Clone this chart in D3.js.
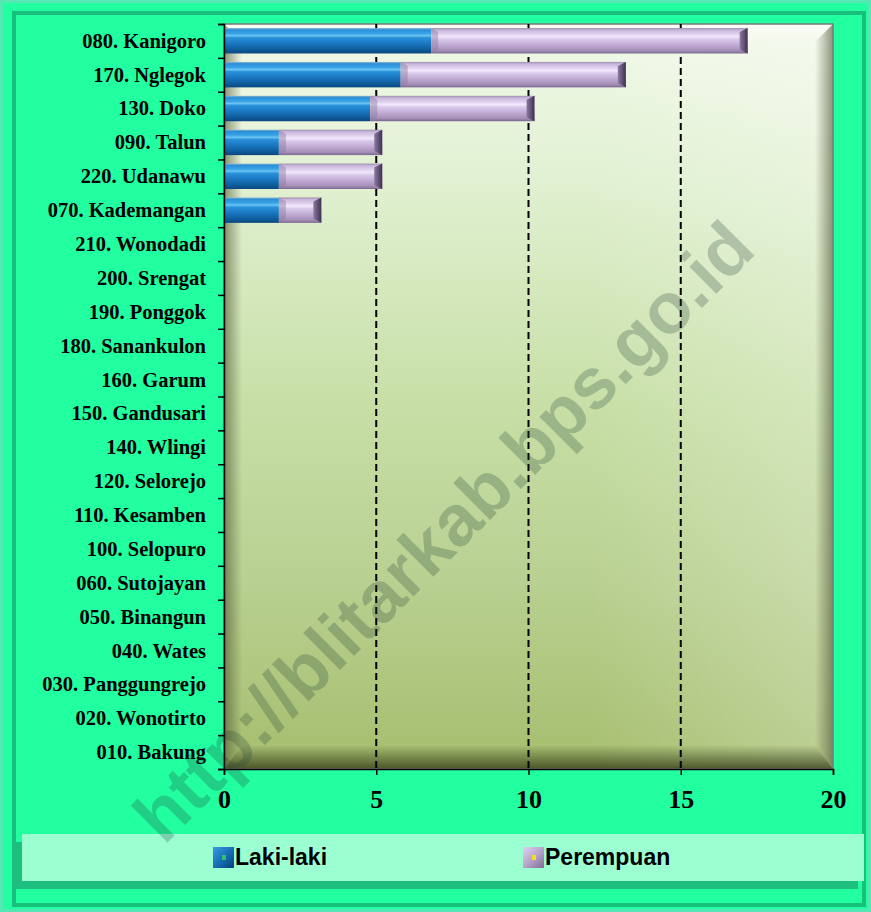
<!DOCTYPE html>
<html>
<head>
<meta charset="utf-8">
<script src="https://cdn.jsdelivr.net/npm/d3@7/dist/d3.min.js"></script>
<style>
  html, body { margin: 0; padding: 0; background: #22FFA0; }
  svg { display: block; }
</style>
</head>
<body>
<svg id="chart" width="871" height="912"></svg>
<script>
// ---- data ----
const categories = [
  "080. Kanigoro", "170. Nglegok", "130. Doko", "090. Talun", "220. Udanawu",
  "070. Kademangan", "210. Wonodadi", "200. Srengat", "190. Ponggok",
  "180. Sanankulon", "160. Garum", "150. Gandusari", "140. Wlingi",
  "120. Selorejo", "110. Kesamben", "100. Selopuro", "060. Sutojayan",
  "050. Binangun", "040. Wates", "030. Panggungrejo", "020. Wonotirto", "010. Bakung"
];
const lakiLaki  = [7, 6, 5, 2, 2, 2, 0, 0, 0, 0, 0, 0, 0, 0, 0, 0, 0, 0, 0, 0, 0, 0];
const perempuan = [10, 7, 5, 3, 3, 1, 0, 0, 0, 0, 0, 0, 0, 0, 0, 0, 0, 0, 0, 0, 0, 0];
const seriesNames = ["Laki-laki", "Perempuan"];
const xTicks = [0, 5, 10, 15, 20];
const xDomain = [0, 20];
const watermarkText = "http://blitarkab.bps.go.id";

// ---- layout ----
const W = 871, H = 912;
const plot = { x0: 224, x1: 833, y0: 24, y1: 769 };
const depth = 6; // 3D offset of bar faces
const serif = "'Liberation Serif', 'Times New Roman', Times, serif";
const sans = "'Liberation Sans', Arial, Helvetica, sans-serif";

const svg = d3.select("#chart");
const defs = svg.append("defs");

function linGrad(id, x1, y1, x2, y2, stops) {
  const g = defs.append("linearGradient").attr("id", id)
    .attr("x1", x1).attr("y1", y1).attr("x2", x2).attr("y2", y2);
  stops.forEach(s => g.append("stop").attr("offset", s[0]).attr("stop-color", s[1])
    .attr("stop-opacity", s[2] === undefined ? 1 : s[2]));
  return "url(#" + id + ")";
}

const plotBg = linGrad("plotBg", 0, 0, 0, 1, [
  [0, "#F2F9EA"], [0.22, "#E0F0D0"], [0.5, "#C8E0A8"], [0.75, "#B8D090"], [1, "#A6BE6E"]
]);
const plotBgH = linGrad("plotBgH", 0, 0, 1, 0, [
  [0, "#ffffff", 0], [0.6, "#ffffff", 0], [1, "#ffffff", 0.25]
]);
const bevelTop = linGrad("bevelTop", 0, 0, 0, 1, [[0, "#ffffff", 0.5], [1, "#ffffff", 0]]);
const bevelLeft = linGrad("bevelLeft", 0, 0, 1, 0, [[0, "#4a5232", 0.6], [1, "#4a5232", 0]]);
const bevelRight = linGrad("bevelRight", 0, 0, 1, 0, [[0, "#4a5232", 0], [1, "#4a5232", 0.6]]);
const bevelBottom = linGrad("bevelBottom", 0, 0, 0, 1, [[0, "#333c18", 0], [1, "#333c18", 0.8]]);

const blueGrad = linGrad("blueGrad", 0, 0, 0, 1, [
  [0, "#8FB8D0"], [0.07, "#2A8FD8"], [0.22, "#3AA4E6"], [0.3, "#6CC4F2"], [0.38, "#2A92DA"],
  [0.6, "#1A78C2"], [0.82, "#10609F"], [1, "#0A4680"]
]);
const pinkGrad = linGrad("pinkGrad", 0, 0, 0, 1, [
  [0, "#9E8EAE"], [0.08, "#C8B6DA"], [0.25, "#E2D4F2"], [0.34, "#F2E8FC"], [0.45, "#D8C8EA"],
  [0.7, "#BCA6D0"], [0.88, "#A690B8"], [1, "#7A6890"]
]);
const capGrad = linGrad("capGrad", 0, 0, 1, 0, [[0, "#8C7AA0"], [1, "#3E3050"]]);
const blueMarker = linGrad("blueMarker", 0, 0, 1, 1, [[0, "#3A9AE0"], [0.5, "#1670B8"], [1, "#0A3E78"]]);
const pinkMarker = linGrad("pinkMarker", 0, 0, 1, 1, [[0, "#E0D2EE"], [0.5, "#B8A4CC"], [1, "#7E6C92"]]);

// ---- outer frame ----
svg.append("rect").attr("x", 0).attr("y", 0).attr("width", W).attr("height", H).attr("fill", "#22FFA0");
svg.append("rect").attr("x", 1.5).attr("y", 1.5).attr("width", W - 3).attr("height", H - 3)
  .attr("fill", "none").attr("stroke", "#55E8B4").attr("stroke-width", 3);
svg.append("rect").attr("x", 14).attr("y", 13).attr("width", W - 21).attr("height", H - 20)
  .attr("fill", "none").attr("stroke", "#18B575").attr("stroke-width", 4).attr("opacity", 0.85);

// ---- scales ----
const x = d3.scaleLinear().domain(xDomain).range([plot.x0, plot.x1]);
const y = d3.scaleBand().domain(categories).range([plot.y0, plot.y1]).paddingInner(0.25).paddingOuter(0.12);
const yb = d3.scaleLinear().domain([0, categories.length]).range([plot.y0, plot.y1]);

// ---- plot area ----
const pw = plot.x1 - plot.x0, ph = plot.y1 - plot.y0, b = 18;
svg.append("rect").attr("x", plot.x0).attr("y", plot.y0).attr("width", pw).attr("height", ph).attr("fill", plotBg);
svg.append("rect").attr("x", plot.x0).attr("y", plot.y0).attr("width", pw).attr("height", ph).attr("fill", plotBgH);
const P = plot;
const poly = pts => pts.map(p => p.join(",")).join(" ");
svg.append("polygon").attr("points", poly([[P.x0, P.y0], [P.x1, P.y0], [P.x1 - b, P.y0 + b], [P.x0 + b, P.y0 + b]])).attr("fill", bevelTop);
svg.append("polygon").attr("points", poly([[P.x0, P.y0], [P.x0 + b, P.y0 + b], [P.x0 + b, P.y1 - b - 6], [P.x0, P.y1]])).attr("fill", bevelLeft);
svg.append("polygon").attr("points", poly([[P.x1, P.y0], [P.x1, P.y1], [P.x1 - b, P.y1 - b - 6], [P.x1 - b, P.y0 + b]])).attr("fill", bevelRight);
svg.append("polygon").attr("points", poly([[P.x0, P.y1], [P.x0 + b, P.y1 - b - 6], [P.x1 - b, P.y1 - b - 6], [P.x1, P.y1]])).attr("fill", bevelBottom);
svg.append("rect").attr("x", plot.x0).attr("y", plot.y0).attr("width", pw).attr("height", ph)
  .attr("fill", "none").attr("stroke", "#7a7a7a").attr("stroke-width", 1.5);

// ---- grid lines ----
svg.append("g").selectAll("line").data(xTicks.filter(t => t > xDomain[0] && t < xDomain[1])).join("line")
  .attr("x1", d => x(d)).attr("x2", d => x(d)).attr("y1", plot.y0).attr("y2", plot.y1)
  .attr("stroke", "#000").attr("stroke-width", 2).attr("stroke-dasharray", "7,4");

// ---- bars ----
const rows = categories.map((c, i) => ({ c, m: lakiLaki[i], f: perempuan[i] }));
const bars = svg.append("g");
rows.filter(r => r.m + r.f > 0).forEach(r => {
  const y0 = y(r.c), h = y.bandwidth();
  const xm = x(r.m) - depth, xe = x(r.m + r.f) + depth;
  bars.append("rect").attr("x", x(0)).attr("y", y0).attr("width", xm - x(0)).attr("height", h).attr("fill", blueGrad);
  bars.append("rect").attr("x", xm).attr("y", y0).attr("width", xe - xm).attr("height", h).attr("fill", pinkGrad);
  // left bevel of pink segment
  bars.append("polygon").attr("points", poly([[xm, y0], [xm + 7, y0 + 4], [xm + 7, y0 + h - 4], [xm, y0 + h]]))
    .attr("fill", "#8C7AA0").attr("opacity", 0.45);
  // right end cap
  bars.append("polygon").attr("points", poly([[xe - 8, y0 + 4], [xe, y0], [xe, y0 + h], [xe - 8, y0 + h - 4]]))
    .attr("fill", capGrad);
});

// ---- axes ----
const leftAxis = svg.append("g").attr("transform", `translate(${plot.x0},0)`)
  .call(d3.axisLeft(yb).tickValues(d3.range(0, categories.length + 1)).tickSize(6).tickFormat(""));
leftAxis.select(".domain").attr("stroke", "#000").attr("stroke-width", 1.5);
leftAxis.selectAll(".tick line").attr("stroke", "#000").attr("stroke-width", 1.5);

const bottomAxis = svg.append("g").attr("transform", `translate(0,${plot.y1})`)
  .call(d3.axisBottom(x).tickValues(xTicks).tickSize(6).tickPadding(15).tickFormat(d3.format("d")));
bottomAxis.select(".domain").attr("stroke", "#000").attr("stroke-width", 1.5);
bottomAxis.selectAll(".tick line").attr("stroke", "#000").attr("stroke-width", 1.5);
bottomAxis.selectAll(".tick text").attr("font-family", serif).attr("font-weight", "bold")
  .attr("font-size", 26).attr("fill", "#000");

// ---- category labels ----
svg.append("g").selectAll("text").data(categories).join("text")
  .attr("x", 206).attr("y", d => y(d) + y.bandwidth() / 2).attr("dy", "0.34em")
  .attr("text-anchor", "end").attr("font-family", serif).attr("font-weight", "bold")
  .attr("font-size", 20.5).attr("fill", "#000").text(d => d);

// ---- legend ----
const lg = svg.append("g");
lg.append("rect").attr("x", 13).attr("y", 842).attr("width", 845).attr("height", 47).attr("fill", "#1DBE7E");
lg.append("rect").attr("x", 22).attr("y", 834).attr("width", 842).attr("height", 47).attr("fill", "#9CFFD2");
const legendItems = [
  { name: seriesNames[0], mx: 213, fill: blueMarker, dot: "#2EC06A" },
  { name: seriesNames[1], mx: 523, fill: pinkMarker, dot: "#F0E020" }
];
legendItems.forEach(it => {
  lg.append("rect").attr("x", it.mx).attr("y", 847).attr("width", 21).attr("height", 21).attr("fill", it.fill);
  lg.append("rect").attr("x", it.mx + 9).attr("y", 855).attr("width", 4).attr("height", 5).attr("fill", it.dot);
  lg.append("text").attr("x", it.mx + 22).attr("y", 865).attr("font-family", sans).attr("font-weight", "bold")
    .attr("font-size", 23).attr("fill", "#000").text(it.name);
});

// ---- watermark ----
svg.append("text").attr("transform", "translate(164,846) rotate(-45)")
  .attr("font-family", sans).attr("font-weight", "bold").attr("font-size", 72)
  .attr("fill", "#1E3C34").attr("fill-opacity", 0.25).text(watermarkText);
</script>
</body>
</html>
